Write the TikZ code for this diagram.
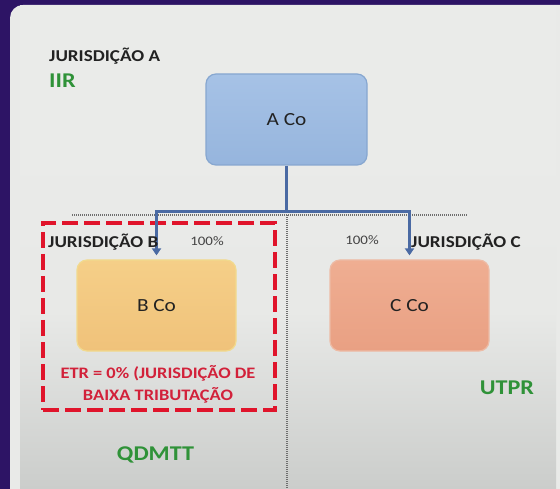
\documentclass[tikz,border=0pt]{standalone}
\usepackage{fontspec}
\setmainfont{Carlito}[FakeStretch=1.15]
\usetikzlibrary{arrows.meta}
\definecolor{bgpurple}{HTML}{2D1465}
\definecolor{panel}{HTML}{E9EAE8}
\definecolor{paneltop}{HTML}{EAEBE9}
\definecolor{panelbot}{HTML}{CBCDCB}
\definecolor{txtdark}{HTML}{222222}
\definecolor{txtgray}{HTML}{444444}
\definecolor{slgreen}{HTML}{2F9238}
\definecolor{slred}{HTML}{D2213A}
\definecolor{dashred}{HTML}{E0142B}
\definecolor{connblue}{HTML}{4A6AA3}
\definecolor{afill1}{HTML}{A6C2E6}
\definecolor{afill2}{HTML}{96B5DD}
\definecolor{aline}{HTML}{87A7D0}
\definecolor{bfill1}{HTML}{F5CF88}
\definecolor{bfill2}{HTML}{F0C27A}
\definecolor{bline}{HTML}{F1DA8E}
\definecolor{cfill1}{HTML}{EFAE92}
\definecolor{cfill2}{HTML}{E9A083}
\definecolor{cline}{HTML}{EDBBA5}
\definecolor{dotgray}{HTML}{6E6E6E}
\begin{document}
\begin{tikzpicture}[x=1pt,y=-1pt,
  cobox/.style={draw, rounded corners=10pt, line width=1.2pt, minimum height=91pt,
     font=\fontsize{18.5}{21}\selectfont, text=txtdark, inner sep=0pt},
  jlabel/.style={font=\bfseries\fontsize{16.6}{19}\selectfont, text=txtdark, inner sep=0pt},
  pct/.style={font=\fontsize{13}{15}\selectfont, text=txtgray, inner sep=0pt},
  rulelabel/.style={font=\bfseries\fontsize{21}{24}\selectfont, text=slgreen, inner sep=0pt},
  etr/.style={font=\bfseries\fontsize{16}{22}\selectfont, text=slred, inner sep=0pt, align=center},
  conn/.style={draw=connblue, line width=3pt},
  tip/.style={-{Triangle[width=9pt,length=7pt]}, shorten >=4pt},
  sep/.style={draw=dotgray, line width=1.3pt, dash pattern=on 1pt off 1pt},
  redbox/.style={draw=dashred, line width=4.5pt, dash pattern=on 16pt off 6pt, inner sep=0pt}
]
\useasboundingbox (0,0) rectangle (560,489);
% background
\fill[bgpurple] (0,0) rectangle (560,489);
\fill[panel, rounded corners=13pt] (10,5) rectangle (590,505);
\shade[top color=paneltop, bottom color=panelbot, middle color=panel!95!panelbot] (20,140) rectangle (556,489);
\fill[paneltop] (20,5) rectangle (556,140);

% separators
\coordinate (dl) at (72,215);
\coordinate (dr) at (468,215);
\coordinate (dt) at (287,215);
\coordinate (db) at (287,489);
\draw[sep] (dl) -- (dr);
\draw[sep] (dt) -- (db);

% red dashed region
\node[redbox, minimum width=232pt, minimum height=187pt] (R) at (159,316.5) {};

% company boxes
\node[cobox, minimum width=161pt, top color=afill1, bottom color=afill2, draw=aline] (A) at (286.5,119.5) {A Co};
\node[cobox, minimum width=159pt, top color=bfill1, bottom color=bfill2, draw=bline] (B) at (156.5,305.5) {B Co};
\node[cobox, minimum width=159pt, top color=cfill1, bottom color=cfill2, draw=cline] (C) at (409.5,305.5) {C Co};

% connectors
\coordinate (J) at (286.5,212);
\draw[conn] (A.south) -- (J);
\draw[conn, tip] (J) -| (B.north);
\draw[conn, tip] (J) -| (C.north);

% labels
\node[jlabel, anchor=base west] (JA) at (49,62) {JURISDIÇÃO A};
\node[rulelabel, anchor=base west] (IIR) at (49,88) {IIR};
\node[jlabel, anchor=base west] (JB) at (48,248) {JURISDIÇÃO B};
\node[jlabel, anchor=base west] (JC) at (411,248) {JURISDIÇÃO C};
\node[pct, anchor=base] (PB) at (207,246) {100\%};
\node[pct, anchor=base] (PC) at (362,245) {100\%};
\node[etr, anchor=base] (E1) at (158,378) {ETR = 0\% (JURISDIÇÃO DE};
\node[etr, anchor=base] (E2) at (158,400) {BAIXA TRIBUTAÇÃO};
\node[rulelabel, anchor=base] (UT) at (507,394) {UTPR};
\node[rulelabel, anchor=base] (QD) at (155.5,460) {QDMTT};
\end{tikzpicture}
\end{document}
